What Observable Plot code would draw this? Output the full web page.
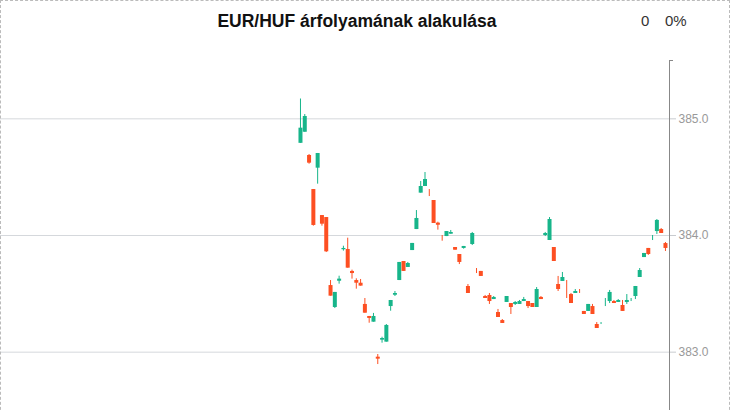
<!DOCTYPE html>
<html><head><meta charset="utf-8">
<script src="https://cdn.jsdelivr.net/npm/d3@7"></script>
<script src="https://cdn.jsdelivr.net/npm/@observablehq/plot@0.6"></script>
<style>
body{margin:0;background:#fff;font-family:"Liberation Sans",Arial,sans-serif;}
#frame{position:absolute;left:0;top:0;width:730px;height:440px;box-sizing:border-box;border:1px dashed #bbb;pointer-events:none;}
#title{position:absolute;left:0;width:714px;top:11px;line-height:20px;font-size:17.5px;font-weight:bold;text-align:center;color:#111;white-space:nowrap;}
.chg{position:absolute;top:11px;line-height:20px;font-size:15px;color:#333;white-space:nowrap;}
#chart{position:absolute;left:0;top:40px;}
</style></head><body>
<div id="title"></div>
<div class="chg" id="chgVal" style="left:641px"></div>
<div class="chg" id="chgPct" style="left:665px"></div>
<div id="chart"></div>
<div id="frame"></div>
<script>
const titleText = "EUR/HUF árfolyamának alakulása";
const changeValue = "0";
const changePct = "0%";
const yTicks = [383, 384, 385];

const opens = [
384.79,384.885,384.686,384.394,384.577,384.171,384.154,383.571,383.383,383.608,
383.878,383.88,383.692,383.614,383.591,383.409,383.306,383.257,382.957,383.103,
383.086,383.391,383.488,383.614,383.777,383.726,383.871,384.051,384.363,384.42,
384.36,384.30,384.106,383.975,383.991,384.011,383.897,383.837,383.889,383.563,
383.923,383.695,383.692,383.477,383.486,383.451,383.34,383.271,383.426,383.417,
383.409,383.409,383.434,383.434,383.417,383.383,383.469,384.0,383.957,383.897,
383.58,383.606,383.55,383.494,383.503,383.51,383.349,383.349,383.391,383.237,
383.245,383.42,383.434,383.434,383.426,383.40,383.426,383.45,383.477,383.64,
383.811,383.889,383.98,384.034,384.051,383.931];
const highs = [
385.17,385.037,384.694,384.394,384.703,384.171,384.154,383.614,383.512,383.651,
383.908,383.977,383.703,383.629,383.623,383.46,383.306,383.332,382.98,383.128,
383.237,383.443,383.52,383.769,383.777,383.769,383.932,384.214,384.463,384.54,
384.394,384.30,384.114,384.0,384.034,384.043,383.897,383.837,383.906,383.58,
384.026,383.717,383.692,383.486,383.503,383.477,383.366,383.28,383.477,383.417,
383.434,383.443,383.469,383.434,383.417,383.554,383.477,384.026,384.154,383.897,
383.649,383.683,383.614,383.503,383.537,383.537,383.349,383.409,383.409,383.254,
383.254,383.46,383.529,383.443,383.451,383.443,383.494,383.46,383.563,383.717,
383.846,383.889,384.0,384.137,384.06,383.94];
const lows = [
384.79,384.885,384.611,384.08,384.44,384.08,383.854,383.48,383.374,383.583,
383.866,383.72,383.626,383.54,383.566,383.334,383.248,383.257,382.894,383.077,
383.086,383.351,383.477,383.614,383.692,383.726,383.871,384.051,384.363,384.42,
384.334,384.103,384.046,383.951,383.991,384.011,383.874,383.751,383.883,383.503,
383.914,383.674,383.649,383.46,383.409,383.451,383.297,383.246,383.426,383.323,
383.40,383.409,383.434,383.374,383.383,383.383,383.451,383.991,383.957,383.777,
383.52,383.606,383.46,383.417,383.503,383.503,383.323,383.349,383.323,383.203,
383.237,383.391,383.417,383.417,383.426,383.349,383.409,383.434,383.451,383.64,
383.811,383.829,383.957,384.009,384.017,383.863];
const closes = [
384.92,385.02,384.62,384.086,384.703,384.097,383.86,383.48,383.512,383.626,
383.889,383.72,383.674,383.591,383.566,383.334,383.289,383.306,382.94,383.117,
383.229,383.443,383.503,383.769,383.692,383.76,383.932,384.146,384.42,384.48,
384.36,384.103,384.088,383.975,384.034,384.026,383.874,383.769,383.906,383.503,
384.017,383.695,383.649,383.46,383.434,383.469,383.297,383.246,383.477,383.383,
383.426,383.434,383.451,383.391,383.383,383.537,383.451,384.017,384.137,383.777,
383.537,383.64,383.55,383.417,383.52,383.51,383.323,383.409,383.323,383.203,
383.245,383.42,383.512,383.417,383.443,383.349,383.443,383.45,383.563,383.70,
383.846,383.837,383.98,384.129,384.017,383.889];

const green = "#17b58a", red = "#fd4f22";

document.getElementById("title").textContent = titleText;
document.getElementById("chgVal").textContent = changeValue;
document.getElementById("chgPct").textContent = changePct;

const data = opens.map((o, i) => ({i, open: o, high: highs[i], low: lows[i], close: closes[i]}));
data.forEach((d, i) => {
  d.up = d.close > d.open ? true : d.close < d.open ? false : (i === 0 || d.close >= data[i - 1].close);
});
const col = d => d.up ? green : red;
const xMax = 85.94;

const chart = Plot.plot({
  width: 730, height: 370,
  marginTop: 20, marginBottom: 0, marginLeft: 0, marginRight: 61,
  style: {fontFamily: "'Liberation Sans', Arial, sans-serif", fontSize: "12px", background: "transparent", overflow: "visible"},
  x: {domain: [-69.86, xMax], axis: null},
  y: {domain: [382.5, 385.5], label: null},
  marks: [
    Plot.gridY(yTicks, {stroke: "#d5d8dc", strokeOpacity: 1}),
    Plot.axisY(yTicks, {anchor: "right", label: null, tickSize: 6, tickPadding: 3, tickFormat: d3.format(".1f"), stroke: "#c8cbcf", fill: "#999", strokeOpacity: 1}),
    Plot.axisY([385.5], {anchor: "right", label: null, tickSize: 3, tickFormat: () => "", stroke: "#888", strokeOpacity: 1}),
    Plot.ruleX([xMax], {stroke: "#888"}),
    Plot.ruleX(data, {x: "i", y1: "low", y2: "high", stroke: col, strokeWidth: 1}),
    Plot.ruleX(data, {x: "i", y1: "open", y2: "close", stroke: col, strokeWidth: 4})
  ]
});
document.getElementById("chart").appendChild(chart);
</script>
</body></html>
